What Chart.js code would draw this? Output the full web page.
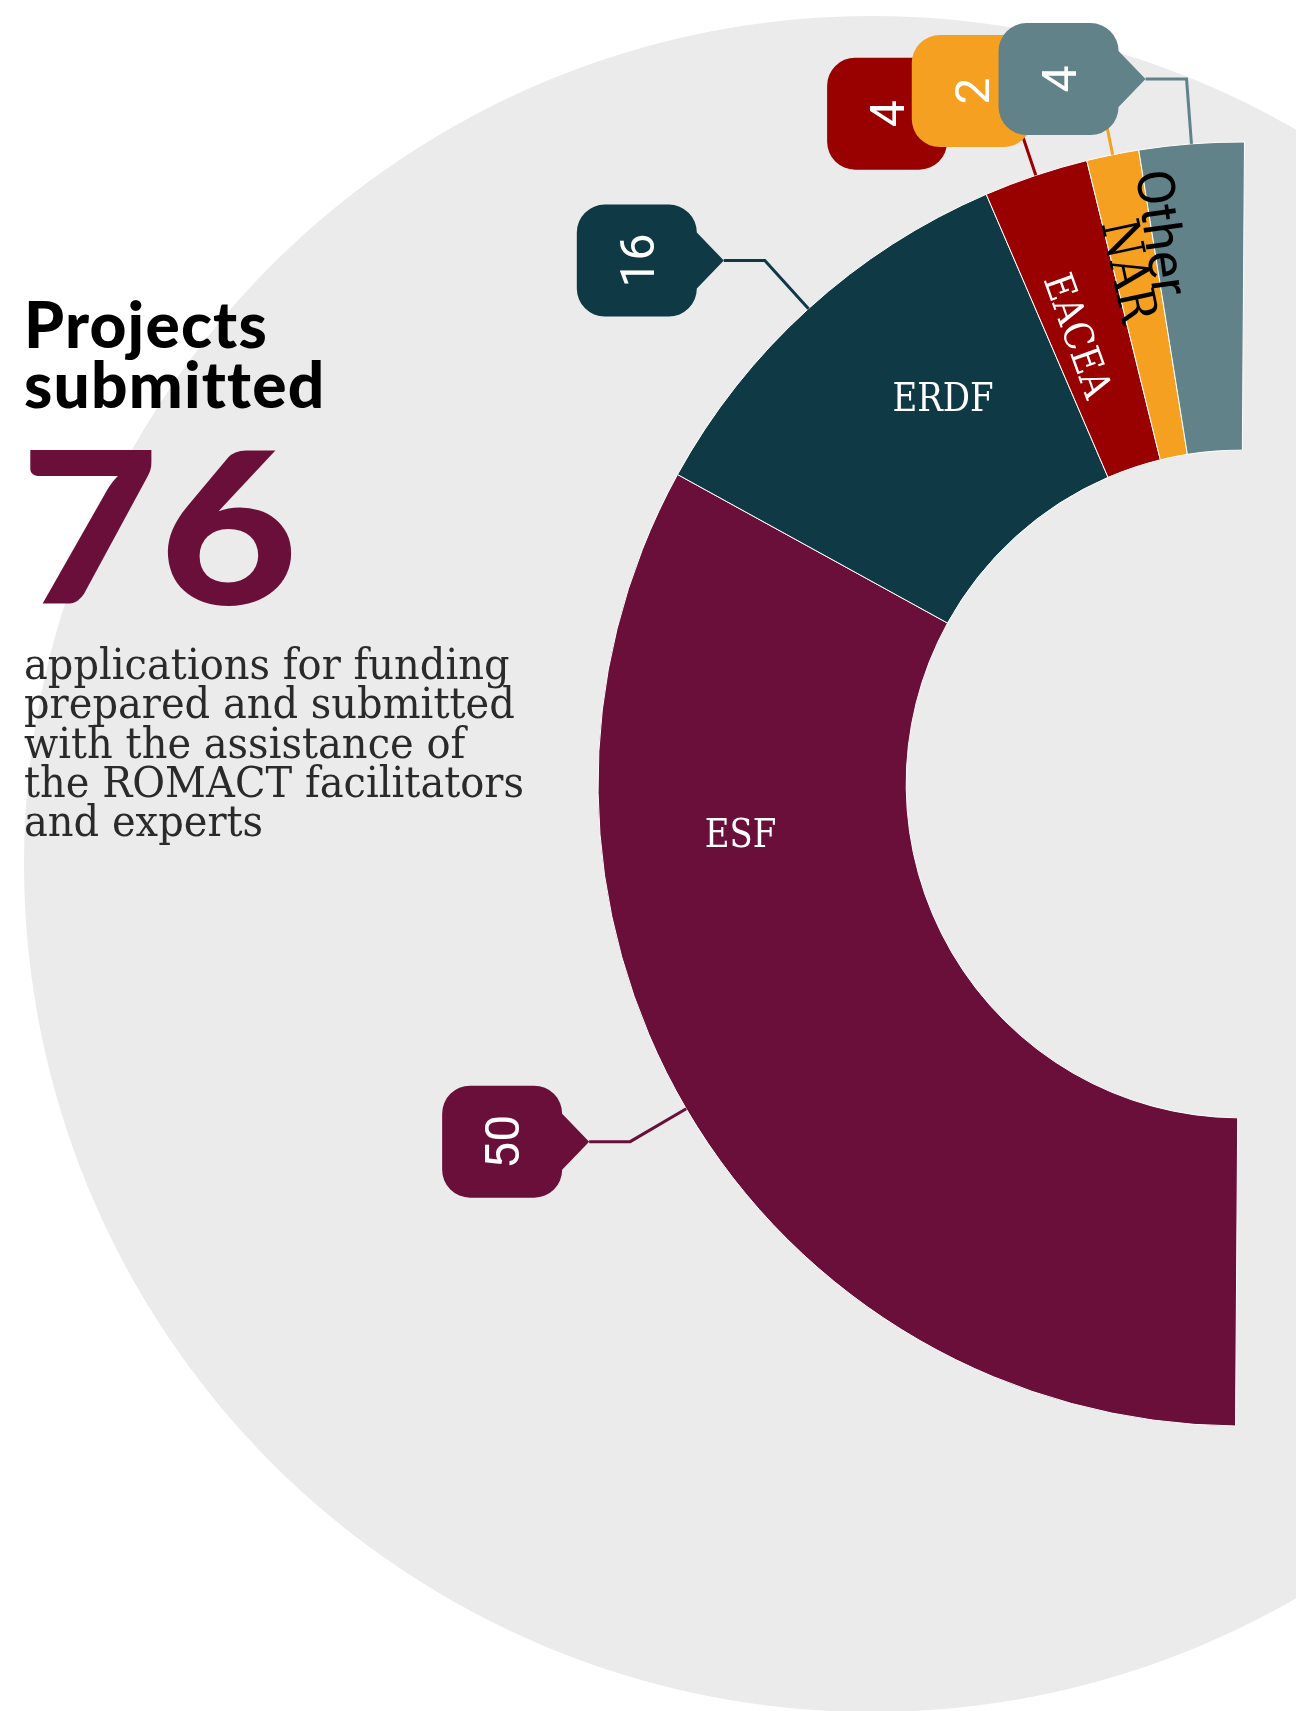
<!DOCTYPE html>
<html>
<head>
<meta charset="utf-8">
<script src="https://cdn.jsdelivr.net/npm/chart.js@4.4.0/dist/chart.umd.min.js"></script>
<style>
  html,body{margin:0;padding:0;background:#fff;}
  #wrap{position:relative;width:1296px;height:1711px;overflow:hidden;}
  #c{position:absolute;left:0;top:0;}
  .txt{position:absolute;left:24px;white-space:nowrap;}
  #title{top:294px;font-family:Lato;font-weight:900;font-size:64px;line-height:60px;color:#000;letter-spacing:1.2px;}
  #big{top:416px;left:20px;font-family:Lato;font-weight:900;font-size:212px;line-height:212px;color:#6a0f3a;transform:scaleX(1.13);transform-origin:0 0;}
  #desc{top:645px;font-family:"DejaVu Serif";font-size:43px;line-height:39.3px;color:#2a2a2a;transform:scaleX(0.93);transform-origin:0 0;}
</style>
</head>
<body>
<div id="wrap">
  <canvas id="c" width="1296" height="1711"></canvas>
  <div class="txt" id="title">Projects<br>submitted</div>
  <div class="txt" id="big">76</div>
  <div class="txt" id="desc">applications for funding<br>prepared and submitted<br>with the assistance of<br>the ROMACT facilitators<br>and experts</div>
</div>
<script>
const labels = ['ESF', 'ERDF', 'EACEA', 'NAR', 'Other'];
const projects = [50, 16, 4, 2, 4];
const colors = ['#6a0f3a', '#0f3945', '#990000', '#f5a021', '#62828a'];
const nameColors = ['#fff', '#fff', '#fff', '#000', '#000'];

// where the names sit: t = along the slice, r = across the ring
const place = [
  {t: 0.71, r: 0.545, turn: false, font: '40px "DejaVu Serif"', sx: 0.85},
  {t: 0.625, r: 0.5, turn: false, font: '40px "DejaVu Serif"', sx: 0.85},
  {t: 0.37, r: 0.464, turn: true, font: '40px "DejaVu Serif"', sx: 0.88},
  {t: 0.37, r: 0.62, turn: true, font: '52px "DejaVu Serif"', sx: 0.85},
  {t: 0.12, r: 0.724, turn: true, font: '52px Roboto', sx: 1}
];

const backdrop = {
  id: 'backdrop',
  beforeDatasetsDraw(chart) {
    const ctx = chart.ctx;
    ctx.save();
    ctx.fillStyle = '#ebebeb';
    ctx.beginPath();
    ctx.arc(872, 864, 848, 0, Math.PI * 2);
    ctx.fill();
    ctx.restore();
  }
};

function callout(ctx, arc, color, txt) {
  const a = (arc.startAngle + arc.endAngle) / 2;
  const x0 = arc.x + Math.cos(a) * arc.outerRadius, y0 = arc.y + Math.sin(a) * arc.outerRadius;
  const x1 = arc.x + Math.cos(a) * (arc.outerRadius + 65), y1 = arc.y + Math.sin(a) * (arc.outerRadius + 65);
  const tx = x1 - 41, ty = y1;
  ctx.strokeStyle = color;
  ctx.lineWidth = 3;
  ctx.beginPath();
  ctx.moveTo(x0, y0);
  ctx.lineTo(x1, y1);
  ctx.lineTo(tx, ty);
  ctx.stroke();

  const bw = 120, bh = 112, pw = 27, rad = 28;
  const right = tx - pw, left = right - bw, top = ty - bh / 2, bottom = ty + bh / 2;
  ctx.fillStyle = color;
  ctx.beginPath();
  ctx.moveTo(left + rad, top);
  ctx.lineTo(right - rad, top);
  ctx.arcTo(right, top, right, top + rad, rad);
  ctx.lineTo(tx, ty);
  ctx.lineTo(right, bottom - rad);
  ctx.arcTo(right, bottom, right - rad, bottom, rad);
  ctx.lineTo(left + rad, bottom);
  ctx.arcTo(left, bottom, left, bottom - rad, rad);
  ctx.lineTo(left, top + rad);
  ctx.arcTo(left, top, left + rad, top, rad);
  ctx.closePath();
  ctx.fill();

  ctx.save();
  ctx.translate(left + bw / 2, ty);
  ctx.rotate(-Math.PI / 2);
  ctx.fillStyle = '#fff';
  ctx.font = '48px Roboto';
  ctx.textAlign = 'center';
  ctx.textBaseline = 'alphabetic';
  ctx.fillText(txt, 0, 17);
  ctx.restore();
}

const annotate = {
  id: 'annotate',
  afterDatasetsDraw(chart) {
    const ctx = chart.ctx;
    const arcs = chart.getDatasetMeta(0).data;
    ctx.save();
    arcs.forEach((arc, i) => {
      const p = place[i];
      const a = arc.startAngle + (arc.endAngle - arc.startAngle) * p.t;
      const rr = arc.innerRadius + (arc.outerRadius - arc.innerRadius) * p.r;
      ctx.save();
      ctx.translate(arc.x + Math.cos(a) * rr, arc.y + Math.sin(a) * rr);
      if (p.turn) ctx.rotate(a - Math.PI);
      ctx.scale(p.sx, 1);
      ctx.font = p.font;
      ctx.fillStyle = nameColors[i];
      ctx.textAlign = 'center';
      ctx.textBaseline = 'alphabetic';
      const size = parseFloat(p.font);
      ctx.fillText(labels[i], 0, size * 0.36);
      ctx.restore();
    });
    arcs.forEach((arc, i) => callout(ctx, arc, colors[i], String(projects[i])));
    ctx.restore();
  }
};

new Chart(document.getElementById('c'), {
  type: 'doughnut',
  data: {
    labels: labels,
    datasets: [{
      data: projects,
      backgroundColor: colors,
      borderColor: '#ffffff',
      borderWidth: 1,
      hoverBorderWidth: 1
    }]
  },
  options: {
    responsive: false,
    devicePixelRatio: 1,
    animation: false,
    rotation: 180.4,
    circumference: 180,
    cutout: '52%',
    layout: {padding: {left: 597.5, right: 51, top: 141.5, bottom: 284.5}},
    plugins: {legend: {display: false}, tooltip: {enabled: false}}
  },
  plugins: [backdrop, annotate]
});
</script>
</body>
</html>
